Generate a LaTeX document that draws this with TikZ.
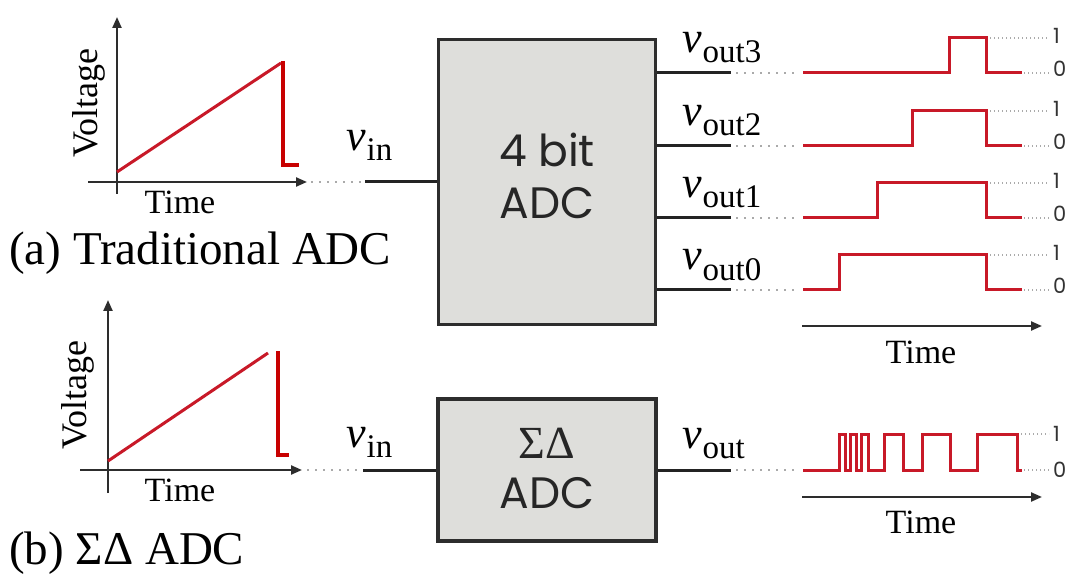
\documentclass[tikz,border=0pt]{standalone}
\usepackage{fontspec}
\setmainfont{Liberation Serif}
\newfontfamily\gothic{Poppins}
\usetikzlibrary{arrows.meta}
\definecolor{axg}{RGB}{45,45,45}
\definecolor{wireg}{RGB}{35,35,35}
\definecolor{wred}{RGB}{200,25,40}
\definecolor{lred}{RGB}{200,0,0}
\definecolor{boxf}{RGB}{222,222,219}
\definecolor{boxb}{RGB}{45,45,45}
\definecolor{dotg}{RGB}{170,170,170}
\newcommand\sig[1]{{\fontsize{44}{44}\selectfont\itshape v}\kern1pt\raisebox{-10pt}{\fontsize{33}{33}\selectfont #1}}
\tikzset{
  ax/.style={draw=axg, line width=2.2pt, -{Triangle[length=11pt,width=9pt]}},
  wire/.style={draw=wireg, line width=3pt},
  dotline/.style={draw=dotg, line width=2pt, dash pattern=on 2pt off 6pt},
  finedots/.style={draw=dotg, line width=1.3pt, dash pattern=on 1.3pt off 2.7pt},
  wave/.style={draw=wred, line width=3pt, line join=miter},
  ell/.style={draw=lred, line width=4.5pt, line join=miter},
  adcbox/.style={draw=boxb, fill=boxf, line width=3.5pt, inner sep=0pt},
  boxtext/.style={font=\gothic\fontsize{44}{44}\selectfont, text=black!85, inner sep=0pt},
  sigma/.style={font=\fontsize{46}{46}\selectfont, text=black!85, inner sep=0pt},
  timelab/.style={font=\fontsize{34}{34}\selectfont, inner sep=0pt, anchor=base},
  caption/.style={font=\fontsize{47}{47}\selectfont, inner sep=0pt, anchor=base west},
  level/.style={font=\gothic\fontsize{21}{21}\selectfont, text=black!80, inner sep=0pt, anchor=base west},
  siglab/.style={inner sep=0pt, anchor=base west}
}
\begin{document}
\begin{tikzpicture}[x=1pt,y=-1pt]
\useasboundingbox (0,0) rectangle (1068,577);

% ---------------- (a) traditional ADC ----------------
\coordinate (ya0) at (117,194);
\coordinate (ya1) at (117,17);
\coordinate (xa0) at (88,182);
\coordinate (xa1) at (307,182);
\draw[ax] (ya0) -- (ya1);
\draw[ax] (xa0) -- (xa1);
\draw[wave] (117,172) -- (281,63);
\draw[ell] (283,61) -- (283,165) -- (299,165);
\node[font=\fontsize{36}{36}\selectfont, rotate=90, inner sep=0pt] (va) at (89,103) {Voltage};
\node[timelab] (ta) at (180,214) {Time};
\node[caption] (capa) at (9,265) {(a) Traditional ADC};

\node[adcbox, minimum width=217pt, minimum height=285pt] (adc) at (547,182) {};
\node[boxtext] (adc1) at (547,150) {4 bit};
\node[boxtext] (adc2) at (547,203) {ADC};

\coordinate (ina) at (365,182);
\coordinate (dina) at (311,182);
\draw[dotline] (dina) -- (ina);
\draw[wire] (ina) -- (adc.west |- ina);
\node[siglab] (vina) at (346,151) {\sig{in}};

\foreach \y/\n/\r in {73/3/949, 146/2/912, 218/1/877, 290/0/839}{
  \coordinate (o\n) at (731,\y);
  \coordinate (d\n) at (797,\y);
  \draw[wire] (adc.east |- o\n) -- (o\n);
  \draw[dotline] ([xshift=5pt]o\n) -- (d\n);
  \node[siglab] (lab\n) at (682,\y-20) {\sig{out\n}};
  \draw[wave] (803,\y) -- (\r,\y) -- (\r,\y-35) -- (986,\y-35) -- (986,\y) -- (1022,\y);
  \draw[finedots] (990,\y-35) -- (1049,\y-35);
  \draw[finedots] (1024,\y) -- (1049,\y);
  \node[level] (one\n) at (1053,\y-29) {1};
  \node[level] (zero\n) at (1053,\y+4) {0};
}

\coordinate (tta0) at (802,326);
\coordinate (tta1) at (1042,326);
\draw[ax] (tta0) -- (tta1);
\node[timelab] (tat) at (921,363) {Time};

% ---------------- (b) sigma-delta ADC ----------------
\coordinate (yb0) at (108,493);
\coordinate (yb1) at (108,300);
\coordinate (xb0) at (80,470);
\coordinate (xb1) at (302,470);
\draw[ax] (yb0) -- (yb1);
\draw[ax] (xb0) -- (xb1);
\draw[wave] (108,461) -- (268,353);
\draw[ell] (278,351) -- (278,455) -- (289,455);
\node[font=\fontsize{36}{36}\selectfont, rotate=90, inner sep=0pt] (vb) at (78,395) {Voltage};
\node[timelab] (tb) at (180,501) {Time};
\node[caption] (capb) at (9,564) {(b) ΣΔ ADC};

\node[adcbox, minimum width=218pt, minimum height=142pt] (sd) at (547,470) {};
\node[sigma] (sd1) at (547,443) {ΣΔ};
\node[boxtext] (sd2) at (547,493) {ADC};

\coordinate (inb) at (363,470);
\coordinate (dinb) at (307,470);
\draw[dotline] (dinb) -- (inb);
\draw[wire] (inb) -- (sd.west |- inb);
\node[siglab] (vinb) at (346,447) {\sig{in}};

\coordinate (ob) at (731,470);
\coordinate (db) at (799,470);
\draw[wire] (sd.east |- ob) -- (ob);
\draw[dotline] ([xshift=5pt]ob) -- (db);
\node[siglab] (voutb) at (682,448) {\sig{out}};

\draw[wave] (803,470) -- (839,470) -- (839,434) -- (845,434) -- (845,470)
  -- (850,470) -- (850,434) -- (856,434) -- (856,470)
  -- (861,470) -- (861,434) -- (868,434) -- (868,470)
  -- (884,470) -- (884,434) -- (903,434) -- (903,470)
  -- (922,470) -- (922,434) -- (950,434) -- (950,470)
  -- (977,470) -- (977,434) -- (1017,434) -- (1017,470) -- (1022,470);
\draw[finedots] (1021,434) -- (1049,434);
\draw[finedots] (1024,470) -- (1049,470);
\node[level] (oneb) at (1053,441) {1};
\node[level] (zerob) at (1053,477) {0};

\coordinate (ttb0) at (802,497);
\coordinate (ttb1) at (1042,497);
\draw[ax] (ttb0) -- (ttb1);
\node[timelab] (tbt) at (921,533) {Time};
\end{tikzpicture}
\end{document}
